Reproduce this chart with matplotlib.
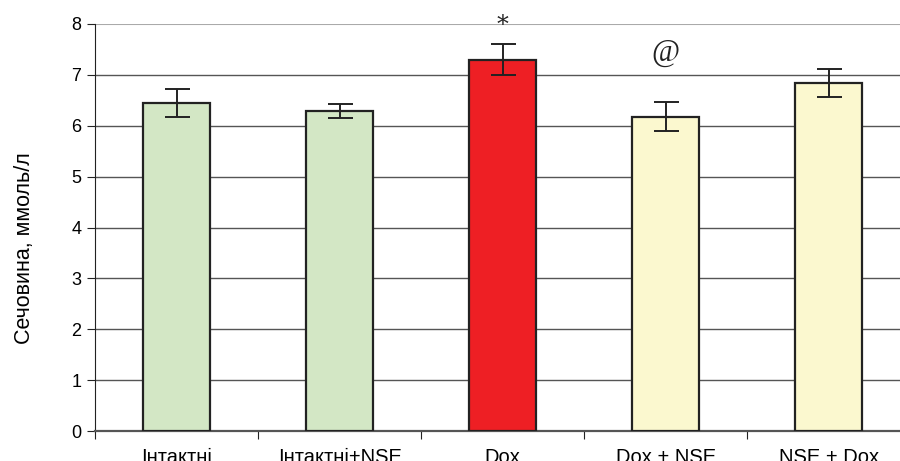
import matplotlib.pyplot as plt
import numpy as np

plt.rcParams.update({
    "font.family": ["Liberation Sans", "DejaVu Sans"],
    "font.size": 11,
})

groups = ["Інтактні", "Інтактні+NSE", "Dox", "Dox + NSE", "NSE + Dox"]
means = [6.45, 6.29, 7.30, 6.18, 6.84]
errors = [0.28, 0.13, 0.31, 0.29, 0.27]
colors = ["#d3e7c5", "#d3e7c5", "#ee1f24", "#fbf8cf", "#fbf8cf"]
marks = ["", "", "*", "@", ""]

fig = plt.figure(figsize=(9, 4.61), dpi=100)
ax = fig.add_axes([0.1056, 0.065, 0.906, 0.883])

x = np.arange(len(groups))
ax.bar(x, means, width=0.41, color=colors, edgecolor="#222222",
       linewidth=1.6, zorder=3)
ax.errorbar(x, means, yerr=errors, fmt="none", ecolor="#222222",
            elinewidth=1.4, capsize=9, capthick=1.4, zorder=4)

# significance marks above bars
for xi, m, e, s in zip(x, means, errors, marks):
    if s == "*":
        ax.text(xi, m + e + 0.36, s, ha="center", va="center",
                fontsize=17, family="DejaVu Serif", color="#222222",
                clip_on=False)
    elif s == "@":
        ax.text(xi, m + e + 0.96, s, ha="center", va="center",
                fontsize=22, family="Liberation Serif", color="#222222")

ax.set_ylim(0, 8)
ax.set_xlim(-0.5, len(groups) - 0.5)
ax.set_yticks(range(0, 9))
ax.yaxis.grid(True, color="#555555", linewidth=1.0, zorder=0)
ax.set_axisbelow(True)
ax.get_ygridlines()[-1].set_color("#aaaaaa")
ax.get_ygridlines()[-1].set_linewidth(1.5)

# category boundary ticks, labels centred between them
ax.set_xticks(np.arange(-0.5, len(groups), 1.0))
ax.set_xticklabels([])
ax.set_xticks(x, minor=True)
ax.set_xticklabels(groups, minor=True, fontsize=14.5)
ax.tick_params(axis="x", which="minor", length=0, pad=12)
ax.tick_params(axis="x", which="major", length=6, color="#222222")
ax.tick_params(axis="y", length=6, color="#222222", labelsize=13, pad=4)

for side in ["top", "right"]:
    ax.spines[side].set_visible(False)
ax.spines["left"].set_color("#222222")
ax.spines["bottom"].set_color("#555555")
ax.spines["bottom"].set_linewidth(1.6)

ax.set_ylabel("Сечовина, ммоль/л", fontsize=15.5)
ax.yaxis.set_label_coords(-0.074, 0.45)

fig.savefig("out.png", dpi=100)
